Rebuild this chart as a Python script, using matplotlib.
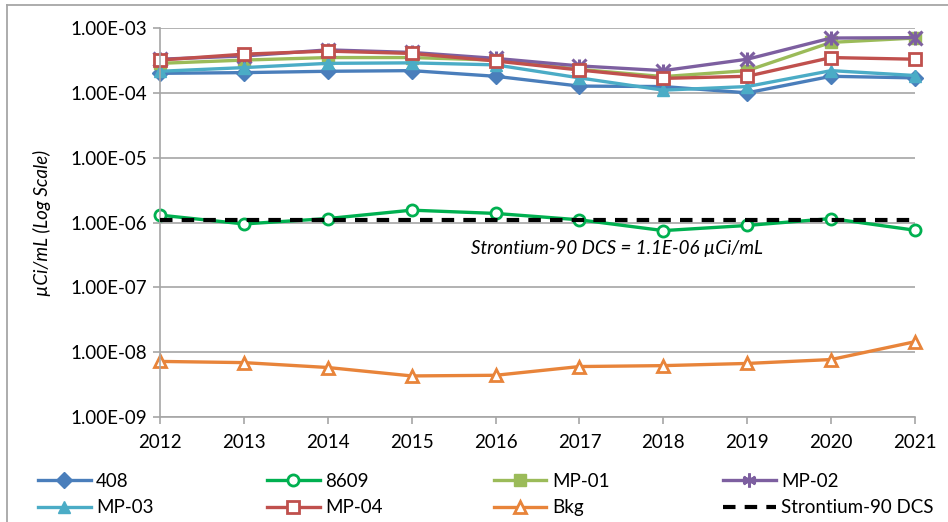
import numpy as np
import matplotlib.pyplot as plt
from matplotlib.lines import Line2D
from matplotlib.ticker import FixedLocator, NullLocator

plt.rcParams['font.family'] = ['Lato', 'DejaVu Sans']

years = [2012, 2013, 2014, 2015, 2016, 2017, 2018, 2019, 2020, 2021]

w408 = [2.0e-4, 2.05e-4, 2.15e-4, 2.2e-4, 1.8e-4, 1.27e-4, 1.25e-4, 1.0e-4, 1.8e-4, 1.7e-4]
w8609 = [1.3e-6, 9.5e-7, 1.15e-6, 1.55e-6, 1.38e-6, 1.1e-6, 7.5e-7, 9.0e-7, 1.15e-6, 7.6e-7]
mp01 = [2.85e-4, 3.2e-4, 3.5e-4, 3.5e-4, 3.2e-4, 2.3e-4, 1.78e-4, 2.2e-4, 6.0e-4, 7.0e-4]
mp02 = [3.3e-4, 3.7e-4, 4.6e-4, 4.2e-4, 3.4e-4, 2.6e-4, 2.2e-4, 3.3e-4, 7.0e-4, 7.1e-4]
mp03 = [2.15e-4, 2.45e-4, 2.85e-4, 2.9e-4, 2.7e-4, 1.7e-4, 1.1e-4, 1.25e-4, 2.2e-4, 1.85e-4]
mp04 = [3.2e-4, 3.95e-4, 4.4e-4, 4.05e-4, 3.1e-4, 2.25e-4, 1.67e-4, 1.8e-4, 3.5e-4, 3.3e-4]
bkg = [7.2e-9, 6.9e-9, 5.8e-9, 4.3e-9, 4.4e-9, 6.0e-9, 6.2e-9, 6.7e-9, 7.7e-9, 1.45e-8]
dcs = 1.1e-6

fs = 13.5
W, H = 948, 522
fig = plt.figure(figsize=(W / 100, H / 100), dpi=100)
ax = fig.add_axes([160 / W, 1 - 417 / H, 755 / W, 389 / H])

# chart frame: top and left edges only
fig.add_artist(Line2D([7 / W, 7 / W], [0, 1 - 5 / H], transform=fig.transFigure,
                      color='#A6A6A6', lw=1.3))
fig.add_artist(Line2D([7 / W, 1], [1 - 5 / H, 1 - 5 / H], transform=fig.transFigure,
                      color='#A6A6A6', lw=1.3))

lw = 2.4
series = [
    ('408', w408, '#4A7EBB', 'D', True),
    ('8609', w8609, '#00B050', 'o', False),
    ('MP-01', mp01, '#9BBB59', 's', True),
    ('MP-02', mp02, '#7D5FA0', 'x', True),
    ('MP-03', mp03, '#4BACC6', '^', True),
    ('MP-04', mp04, '#C0504D', 's', False),
    ('Bkg', bkg, '#E8843A', '^', False),
]

handles = {}
for name, vals, col, mk, filled in series:
    kw = dict(color=col, lw=lw, marker=mk, markersize=8, clip_on=False)
    if mk == 'x':
        kw.update(markeredgewidth=2.2, markersize=10)
    elif filled:
        kw.update(markerfacecolor=col, markeredgecolor=col)
    else:
        kw.update(markerfacecolor='white', markeredgecolor=col, markeredgewidth=2)
    ln, = ax.plot(years, vals, **kw)
    if mk == 'x':
        # asterisk: add a vertical bar through each cross
        ax.plot(years, vals, ls='none', marker='|', markersize=10,
                markeredgewidth=2.2, color=col, clip_on=False)
        ln = Line2D([], [], color=col, lw=lw, marker=(6, 2, 0), markersize=10,
                    markeredgewidth=2)
    handles[name] = ln

dline, = ax.plot([years[0], years[-1]], [dcs, dcs], color='black', lw=3,
                 ls=(0, (3, 2.2)), zorder=5)
handles['Strontium-90 DCS'] = dline

ax.set_yscale('log')
ax.set_ylim(1e-9, 1e-3)
ax.set_xlim(2012, 2021)
ax.yaxis.set_major_locator(FixedLocator([10.0 ** k for k in range(-9, -2)]))
ax.yaxis.set_minor_locator(NullLocator())
ax.set_yticklabels(['1.00E-%02d' % k for k in range(9, 2, -1)])
ax.set_xticks(years)
ax.set_xticklabels([str(y) for y in years])
ax.tick_params(axis='y', length=5, width=1.2, color='#A6A6A6', labelsize=fs, pad=4)
ax.tick_params(axis='x', length=5, width=1.2, color='#A6A6A6', labelsize=fs, pad=7)
ax.grid(axis='y', color='#A6A6A6', lw=1.2)
ax.set_axisbelow(True)
for s in ['top', 'right']:
    ax.spines[s].set_visible(False)
for s in ['left', 'bottom']:
    ax.spines[s].set_color('#A6A6A6')
    ax.spines[s].set_linewidth(1.2)

ax.set_ylabel('µCi/mL (Log Scale)', fontsize=fs, style='italic', labelpad=14)
ax.text(2017.45, 4.0e-7, 'Strontium-90 DCS = 1.1E-06 µCi/mL', fontsize=fs,
        style='italic', ha='center', va='center')

# legend: four evenly spaced columns, two rows each
columns = [['408', 'MP-03'], ['8609', 'MP-04'], ['MP-01', 'Bkg'],
           ['MP-02', 'Strontium-90 DCS']]
col_x = [38, 267, 494, 723]
for names, x in zip(columns, col_x):
    leg = fig.legend([handles[k] for k in names], names, loc='center left',
                     bbox_to_anchor=(x / W, 1 - 494.5 / H), frameon=False,
                     fontsize=fs, handlelength=2.8, handletextpad=0.3,
                     labelspacing=0.5, borderpad=0, borderaxespad=0)

fig.savefig('out.png', dpi=100)
